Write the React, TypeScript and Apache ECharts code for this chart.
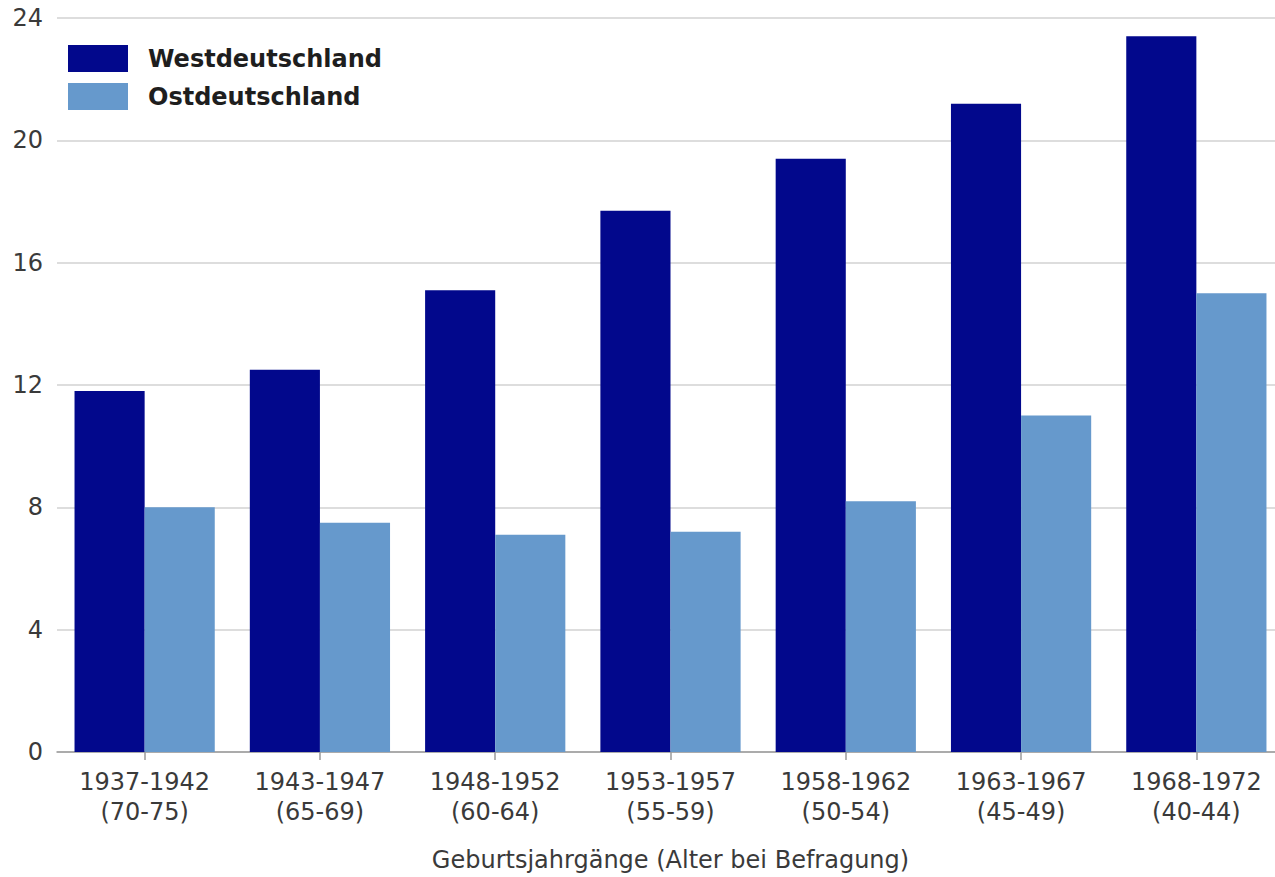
import React, { useEffect, useRef } from "react";
import * as echarts from "echarts";

// Birth cohorts (age at time of survey)
const cohorts = [
  "1937-1942\n(70-75)",
  "1943-1947\n(65-69)",
  "1948-1952\n(60-64)",
  "1953-1957\n(55-59)",
  "1958-1962\n(50-54)",
  "1963-1967\n(45-49)",
  "1968-1972\n(40-44)",
];

const westValues = [11.8, 12.5, 15.1, 17.7, 19.4, 21.2, 23.4];
const eastValues = [8.0, 7.5, 7.1, 7.2, 8.2, 11.0, 15.0];

const seriesNames = ["Westdeutschland", "Ostdeutschland"];
const xAxisTitle = "Geburtsjahrgänge (Alter bei Befragung)";

const FONT = "'DejaVu Sans', Verdana, sans-serif";

export default function App() {
  const ref = useRef<HTMLDivElement>(null);

  useEffect(() => {
    if (!ref.current) return;
    const chart = echarts.init(ref.current, undefined, { renderer: "svg" });
    chart.setOption({
      animation: false,
      backgroundColor: "#ffffff",
      textStyle: { fontFamily: FONT },
      grid: { left: 57, top: 18, width: 1227, bottom: 125, containLabel: false },
      legend: {
        orient: "vertical",
        left: 68,
        top: 45,
        padding: 0,
        itemWidth: 60,
        itemHeight: 27,
        itemGap: 11,
        icon: "rect",
        data: seriesNames,
        textStyle: {
          fontFamily: FONT,
          fontSize: 24,
          fontWeight: "bold",
          color: "#1e1e1e",
          padding: [0, 0, 0, 15],
        },
      },
      xAxis: {
        type: "category",
        data: cohorts,
        name: xAxisTitle,
        nameLocation: "middle",
        nameGap: 96,
        nameTextStyle: { fontFamily: FONT, fontSize: 24, color: "#3a3a3a" },
        axisLine: { show: true, lineStyle: { color: "#9a9a9a", width: 1.5 } },
        axisTick: { show: true, alignWithLabel: true, length: 8, lineStyle: { color: "#9a9a9a", width: 1.5 } },
        axisLabel: {
          fontFamily: FONT,
          fontSize: 24,
          lineHeight: 30,
          color: "#3a3a3a",
          margin: 15,
          interval: 0,
        },
      },
      yAxis: {
        type: "value",
        min: 0,
        max: 24,
        interval: 4,
        axisLine: { show: false },
        axisTick: { show: false },
        axisLabel: { fontFamily: FONT, fontSize: 24, color: "#3a3a3a", margin: 14 },
        splitLine: { show: true, lineStyle: { color: "#d2d2d2", width: 1.5 } },
      },
      series: [
        {
          name: seriesNames[0],
          type: "bar",
          data: westValues,
          barGap: "0%",
          barCategoryGap: "20%",
          itemStyle: { color: "#02088C" },
        },
        {
          name: seriesNames[1],
          type: "bar",
          data: eastValues,
          barGap: "0%",
          barCategoryGap: "20%",
          itemStyle: { color: "#6699CC" },
        },
      ],
    });
    return () => chart.dispose();
  }, []);

  return (
    <div
      style={{
        position: "absolute",
        left: 0,
        top: 0,
        width: 1275,
        height: 877,
        overflow: "hidden",
      }}
    >
      <div ref={ref} style={{ width: 1290, height: 877 }} />
    </div>
  );
}
